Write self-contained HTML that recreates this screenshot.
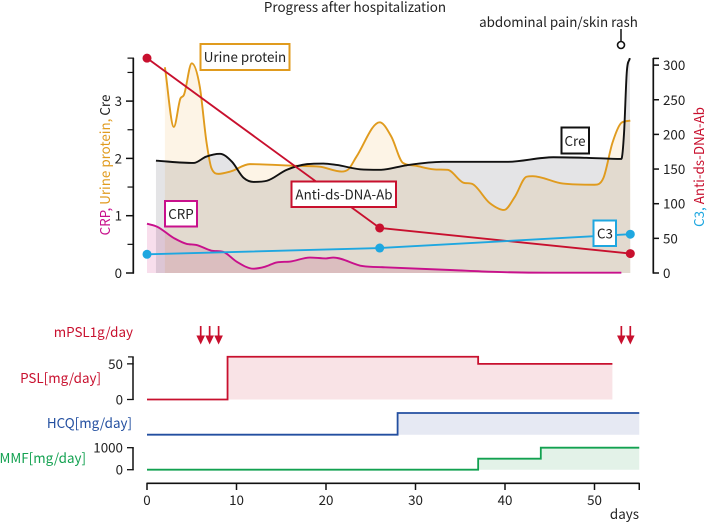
<!DOCTYPE html>
<html lang="en">
<head>
<meta charset="utf-8">
<title>Progress after hospitalization</title>
<style>
html,body{margin:0;padding:0;background:#fff;width:708px;height:524px;overflow:hidden}
svg{display:block}
text{font-family:"Noto Sans CJK JP","Liberation Sans",sans-serif;font-size:13.4px;fill:#222}
.box{fill:#fff;stroke-width:2}
</style>
</head>
<body>
<svg id="chart" width="708" height="524" viewBox="0 0 708 524" xmlns="http://www.w3.org/2000/svg">
<g id="fills" style="isolation:isolate"></g>
<g id="lines"></g>
<g id="axes"></g>

<text x="355" y="12" text-anchor="middle">Progress after hospitalization</text>
<text x="558.5" y="27" text-anchor="middle">abdominal pain/skin rash</text>
<line x1="621" y1="29" x2="621" y2="41" stroke="#111" stroke-width="1.5"/>
<circle cx="621" cy="45" r="3.5" fill="#fff" stroke="#111" stroke-width="1.6"/>

<text transform="translate(110,165) rotate(-90)" text-anchor="middle"><tspan style="fill:#c8108c">CRP, </tspan><tspan style="fill:#e09b1e">Urine protein, </tspan><tspan style="fill:#222">Cre</tspan></text>
<text transform="translate(704,167) rotate(-90)" text-anchor="middle"><tspan style="fill:#1ea7e0">C3, </tspan><tspan style="fill:#c8102e">Anti-ds-DNA-Ab</tspan></text>

<g><rect class="box" x="200.5" y="44" width="89" height="26" stroke="#e09b1e"/><text x="245" y="62" text-anchor="middle">Urine protein</text></g>
<g><rect class="box" x="165" y="201" width="32" height="25.5" stroke="#c8108c"/><text x="181" y="219" text-anchor="middle">CRP</text></g>
<g><rect class="box" x="291.5" y="181.5" width="104.5" height="25.5" stroke="#c8102e"/><text x="344" y="199.5" text-anchor="middle">Anti-ds-DNA-Ab</text></g>
<g><rect class="box" x="561.5" y="127.5" width="27.5" height="26" stroke="#111"/><text x="575" y="146" text-anchor="middle">Cre</text></g>
<g><rect class="box" x="593.5" y="220.5" width="22.5" height="25.5" stroke="#1ea7e0"/><text x="605" y="238.5" text-anchor="middle">C3</text></g>

<text x="133" y="337" text-anchor="end" style="fill:#c8102e">mPSL1g/day</text>
<text x="101" y="383" text-anchor="end" style="fill:#c8102e">PSL[mg/day]</text>
<text x="132" y="428" text-anchor="end" style="fill:#234fa0">HCQ[mg/day]</text>
<text x="86" y="463" text-anchor="end" style="fill:#12a150">MMF[mg/day]</text>
<text x="639" y="519" text-anchor="end">days</text>
</svg>

<script>
// ---- data (days / values) ----
var urineDays = [2,3,3.75,4.1,5,5.9,6.66,7.2,8,9.3,11.5,16.7,19.3,21.75,22.5,23.4,26,27.3,28.6,30.1,32,33.6,35.3,36.4,38.3,39.9,41.1,42.4,43.1,46.5,50,51,52,53,54];
var urineValues = [3.59,2.55,3.05,3.1,3.66,3.25,2.27,1.83,1.73,1.77,1.90,1.87,1.855,1.77,1.81,2.03,2.63,2.38,1.92,1.87,1.81,1.80,1.58,1.55,1.22,1.10,1.33,1.68,1.69,1.56,1.54,1.66,2.27,2.62,2.66];
var creDays = [1,5.2,6.6,8.15,9.5,10.8,11.9,13.4,15.6,17.9,19.7,21.2,23.8,26,29,33,40.2,45.4,49.1,53,53.3,53.6,53.95];
var creValues = [1.96,1.92,2.03,2.08,1.94,1.66,1.59,1.61,1.80,1.90,1.91,1.885,1.81,1.80,1.88,1.94,1.94,2.02,2.01,1.99,2.44,3.49,3.75];
var crpDays = [0,1.1,3,4.4,5.5,7.2,8.5,10,11.9,13.2,14.5,16,18.2,20,20.8,24.1,26.6,34.2,38.7,45,53];
var crpValues = [0.86,0.81,0.61,0.51,0.49,0.39,0.37,0.2,0.075,0.11,0.185,0.2,0.27,0.255,0.27,0.12,0.10,0.05,0.02,0.005,0.005];
var labDays = [0,26,54];
var antiDnaValues = [310,65,28];
var c3Values = [27,36,56];
var pslDays = [0,9,37,52];
var pslValues = [0,60,50,50];
var hcqDays = [0,28,55];
var hcqValues = [0,200,200];
var mmfDays = [0,37,44,55];
var mmfValues = [0,500,1000,1000];
var mpslDays = [6,7,8,53,54];
var leftMajorTicks = [0,1,2,3];
var leftMinorTicks = [0.5,1.5,2.5,3.5,3.75];
var rightTicks = [0,50,100,150,200,250,300];
var xTicks = [0,10,20,30,40,50];
var pslTicks = [0,50];
var mmfTicks = [0,1000];

// ---- axis functions ----
function xScale(d){return 147+d*8.95;}
function yLeft(v){return 273-v*57.3;}
function yRight(v){return 273-v*0.693;}
function yPsl(v){return 399.5-v*0.713;}
function yHcq(v){return 434.7-v*0.1085;}
function yMmf(v){return 469.7-v*0.022;}

var NS='http://www.w3.org/2000/svg';
var fillsG=document.getElementById('fills');
var linesG=document.getElementById('lines');
var axesG=document.getElementById('axes');

function mk(tag,parent,attrs){
  var el=document.createElementNS(NS,tag);
  for(var k in attrs){el.setAttribute(k,attrs[k]);}
  parent.appendChild(el);
  return el;
}

// smooth cubic path with limited tangents
function smoothPath(px,py){
  var n=px.length,d=[],m=[],i;
  for(i=0;i<n-1;i++){d[i]=(py[i+1]-py[i])/(px[i+1]-px[i]);}
  m[0]=d[0];m[n-1]=d[n-2];
  for(i=1;i<n-1;i++){
    if(d[i-1]*d[i]<=0){m[i]=0;}
    else{
      var h0=px[i]-px[i-1],h1=px[i+1]-px[i];
      var t=(h1*d[i-1]+h0*d[i])/(h0+h1);
      var lim=3*Math.min(Math.abs(d[i-1]),Math.abs(d[i]));
      m[i]=Math.abs(t)>lim?(t>0?lim:-lim):t;
    }
  }
  var s='M'+px[0].toFixed(2)+' '+py[0].toFixed(2);
  for(i=0;i<n-1;i++){
    var h=(px[i+1]-px[i])/3;
    s+='C'+(px[i]+h).toFixed(2)+' '+(py[i]+m[i]*h).toFixed(2)+' '+(px[i+1]-h).toFixed(2)+' '+(py[i+1]-m[i+1]*h).toFixed(2)+' '+px[i+1].toFixed(2)+' '+py[i+1].toFixed(2);
  }
  return s;
}
function stepPath(days,vals,ys){
  var s='M'+xScale(days[0])+' '+ys(vals[0]);
  for(var i=1;i<days.length;i++){
    s+='L'+xScale(days[i])+' '+ys(vals[i-1]);
    s+='L'+xScale(days[i])+' '+ys(vals[i]);
  }
  return s;
}

// ---- smooth series ----
function curvePath(days,vals){
  return smoothPath(days.map(xScale),vals.map(yLeft));
}
function areaEnd(days,endDay){
  var base=yLeft(0);
  return 'L'+xScale(endDay)+' '+base+'L'+xScale(days[0])+' '+base+'Z';
}
var creArea=mk('path',fillsG,{d:curvePath(creDays,creValues)+areaEnd(creDays,54),fill:'#e4e4e6',style:'mix-blend-mode:multiply'});


var urineArea=mk('path',fillsG,{d:curvePath(urineDays,urineValues)+areaEnd(urineDays,54),fill:'#fdf4e6',style:'mix-blend-mode:multiply'});


var crpArea=mk('path',fillsG,{d:curvePath(crpDays,crpValues)+areaEnd(crpDays,53),fill:'#f8deec',style:'mix-blend-mode:multiply'});



var urineLine=mk('path',linesG,{d:curvePath(urineDays,urineValues),fill:'none',stroke:'#e09b1e','stroke-width':1.9});


var creLine=mk('path',linesG,{d:curvePath(creDays,creValues),fill:'none',stroke:'#111','stroke-width':1.9});


var crpLine=mk('path',linesG,{d:curvePath(crpDays,crpValues),fill:'none',stroke:'#c8108c','stroke-width':1.9});



// ---- straight lab series ----
function polyPts(vals){
  return labDays.map(function(d,i){return xScale(d)+','+yRight(vals[i]);}).join(' ');
}
var antiLine=mk('polyline',linesG,{points:polyPts(antiDnaValues),fill:'none',stroke:'#c8102e','stroke-width':1.9});


var c3Line=mk('polyline',linesG,{points:polyPts(c3Values),fill:'none',stroke:'#1ea7e0','stroke-width':1.9});


labDays.forEach(function(d,i){
  var p=mk('circle',linesG,{cx:xScale(d),cy:yRight(antiDnaValues[i]),r:4.5,fill:'#c8102e'});
  
  
  var q=mk('circle',linesG,{cx:xScale(d),cy:yRight(c3Values[i]),r:4.5,fill:'#1ea7e0'});
  
  
});

// ---- treatment steps ----
function stepSeries(days,vals,ys,col,fillCol,name){
  var a=mk('path',fillsG,{d:stepPath(days,vals,ys)+'L'+xScale(days[days.length-1])+' '+ys(0)+'L'+xScale(days[0])+' '+ys(0)+'Z',fill:fillCol});
  
  
  var l=mk('path',linesG,{d:stepPath(days,vals,ys),fill:'none',stroke:col,'stroke-width':1.8});
  
  
}
stepSeries(pslDays,pslValues,yPsl,'#c8102e','#f9e3e6','psl');
stepSeries(hcqDays,hcqValues,yHcq,'#234fa0','#e6e9f3','hcq');
stepSeries(mmfDays,mmfValues,yMmf,'#12a150','#e3f2e8','mmf');

// ---- mPSL arrows ----
mpslDays.forEach(function(d){
  var x=xScale(d);
  var s=mk('line',linesG,{x1:x,y1:326,x2:x,y2:338,stroke:'#c8102e','stroke-width':1.7});
  
  
  var h=mk('polygon',linesG,{points:(x-4.3)+',335.5 '+(x+4.3)+',335.5 '+x+',344.5',fill:'#c8102e'});
  
  
});

// ---- axes ----
function ln(x1,y1,x2,y2,w,name){
  var l=mk('line',axesG,{x1:x1,y1:y1,x2:x2,y2:y2,stroke:'#111','stroke-width':w||1.5});
  
  
}
function tx(x,y,str,anchor,name){
  var t=mk('text',axesG,{x:x,y:y,'text-anchor':anchor});
  t.textContent=str;
  
  
}
ln(133.3,58,133.3,273.6,1.7,'left-axis-line');
leftMajorTicks.forEach(function(v){
  ln(126,yLeft(v),134,yLeft(v),1.5,'left-axis-tick');
  tx(122,yLeft(v)+5,String(v),'end','left-axis-tick-label');
});
leftMinorTicks.forEach(function(v){
  ln(127.5,yLeft(v),134,yLeft(v),1.2,'left-axis-minor-tick');
});
ln(653.3,58,653.3,273.6,1.7,'right-axis-line');
rightTicks.forEach(function(v){
  ln(653,yRight(v),659,yRight(v),1.5,'right-axis-tick');
  tx(663,yRight(v)+5,String(v),'start','right-axis-tick-label');
});
ln(653,58.4,659,58.4,1.5,'right-axis-top-tick');

ln(133,356.7,133,400,1.5,'psl-axis-line');
ln(128,356.9,133.7,356.9,1.2,'psl-axis-top-tick');
pslTicks.forEach(function(v){
  ln(127,yPsl(v),133.7,yPsl(v),1.3,'psl-axis-tick');
  tx(123,yPsl(v)+5,String(v),'end','psl-axis-tick-label');
});
ln(133,447.3,133,470.2,1.5,'mmf-axis-line');
mmfTicks.forEach(function(v){
  ln(127,yMmf(v),133.7,yMmf(v),1.3,'mmf-axis-tick');
  tx(123,yMmf(v)+5,String(v),'end','mmf-axis-tick-label');
});

ln(146.5,483.3,639.6,483.3,1.7,'x-axis-line');
xTicks.forEach(function(v){
  ln(xScale(v),483,xScale(v),490,1.5,'x-axis-tick');
  tx(xScale(v),505,String(v),'middle','x-axis-tick-label');
});
ln(xScale(55),483,xScale(55),490,1.5,'x-axis-end-tick');
</script>
</body>
</html>
